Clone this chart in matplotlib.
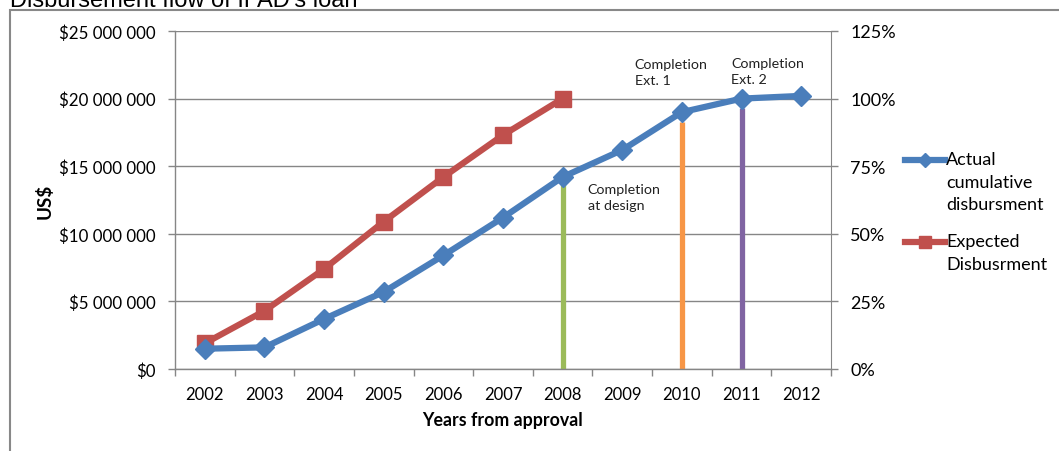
import matplotlib
matplotlib.use("Agg")
import matplotlib.pyplot as plt
from matplotlib.lines import Line2D
from matplotlib.patches import Rectangle
from matplotlib.ticker import FuncFormatter, FixedLocator

years = ["2002", "2003", "2004", "2005", "2006", "2007", "2008", "2009", "2010", "2011", "2012"]
actual = [1.5e6, 1.6e6, 3.7e6, 5.7e6, 8.4e6, 11.2e6, 14.2e6, 16.2e6, 19.0e6, 20.0e6, 20.2e6]
expected = [1.9e6, 4.3e6, 7.4e6, 10.9e6, 14.2e6, 17.3e6, 20.0e6]
milestone_years = ["2008", "2010", "2011"]
milestone_tops = [13.7e6, 18.3e6, 19.3e6]
milestone_labels = ["Completion\nat design", "Completion\nExt. 1", "Completion\nExt. 2"]
milestone_colors = ["#9BBB59", "#F79646", "#8064A2"]

BLUE = "#4A7EBB"
RED = "#C0504D"
GRID = "#868686"
FONT = "Lato"

W, H = 1059, 452
fig = plt.figure(figsize=(W / 100, H / 100), dpi=100)
ax = fig.add_axes([175 / W, 1 - 370 / H, (831 - 175) / W, (370 - 32) / H])

x_act = list(range(len(actual)))
x_exp = list(range(len(expected)))

# milestone vertical lines
for yr, top, col in zip(milestone_years, milestone_tops, milestone_colors):
    xi = years.index(yr)
    ax.plot([xi, xi], [0, top], color=col, lw=3.8, solid_capstyle="butt", zorder=2)

ax.plot(x_act, actual, color=BLUE, lw=4.5, marker="D", markersize=10.5,
        markerfacecolor=BLUE, markeredgecolor=BLUE, zorder=4)
ax.plot(x_exp, expected, color=RED, lw=4.5, marker="s", markersize=12,
        markerfacecolor=RED, markeredgecolor=RED, zorder=3)

# annotations
ann_kw = dict(fontsize=10.3, family=FONT, va="top", ha="left", color="#222222", linespacing=1.4)
ax.text(6.42, 13.75e6, milestone_labels[0], **ann_kw)
ax.text(7.21, 23.0e6, milestone_labels[1], **ann_kw)
ax.text(8.83, 23.05e6, milestone_labels[2], **ann_kw)

ax.set_xlim(-0.5, len(years) - 0.5)
ax.set_ylim(0, 25e6)
ax.set_xticks(range(len(years)))
ax.set_xticklabels(years, family=FONT, fontsize=12)
ax.xaxis.set_minor_locator(FixedLocator([i - 0.5 for i in range(len(years) + 1)]))
ax.tick_params(axis="x", which="major", length=0, pad=12)
ax.tick_params(axis="x", which="minor", length=5, color=GRID, width=1)
ax.set_yticks([0, 5e6, 10e6, 15e6, 20e6, 25e6])
ax.yaxis.set_major_formatter(FuncFormatter(
    lambda v, p: "$0" if v == 0 else "$" + f"{int(v):,}".replace(",", " ")))
ax.tick_params(axis="y", length=5, color=GRID, width=1, pad=9, labelsize=12.2)
for lab in ax.get_yticklabels():
    lab.set_family(FONT)
ax.grid(axis="y", color=GRID, lw=1)
ax.set_axisbelow(True)
for s in ["top", "right"]:
    ax.spines[s].set_visible(False)
for s in ["left", "bottom"]:
    ax.spines[s].set_color(GRID)
    ax.spines[s].set_linewidth(1)

ax.set_xlabel("Years from approval", family=FONT, fontsize=12.8, fontweight="bold", labelpad=7)
ax.set_ylabel("US$", family=FONT, fontsize=13.5, fontweight="bold", labelpad=4)

ax2 = ax.twinx()
ax2.set_ylim(0, 1.25)
ax2.set_yticks([0, 0.25, 0.5, 0.75, 1.0, 1.25])
ax2.yaxis.set_major_formatter(FuncFormatter(lambda v, p: f"{v * 100:.0f}%"))
ax2.tick_params(axis="y", length=5, color=GRID, width=1, pad=9, labelsize=13)
for lab in ax2.get_yticklabels():
    lab.set_family(FONT)
for s in ["top", "left", "bottom"]:
    ax2.spines[s].set_visible(False)
ax2.spines["right"].set_color(GRID)

# legend (manual)
def fx(px):
    return px / W

def fy(py):
    return 1 - py / H

fig.add_artist(Line2D([fx(905), fx(945)], [fy(161), fy(161)], color=BLUE, lw=4.5))
fig.add_artist(Line2D([fx(925)], [fy(161)], color=BLUE, marker="D", markersize=7, lw=0))
fig.add_artist(Line2D([fx(905), fx(945)], [fy(243), fy(243)], color=RED, lw=4.5))
fig.add_artist(Line2D([fx(925)], [fy(243)], color=RED, marker="s", markersize=9, lw=0))
fig.text(fx(946), fy(152), "Actual\ncumulative\ndisbursment", family=FONT, fontsize=13,
         va="top", ha="left", linespacing=1.5)
fig.text(fx(946), fy(234), "Expected\nDisbusrment", family=FONT, fontsize=13,
         va="top", ha="left", linespacing=1.5)

# outer border and title
fig.add_artist(Rectangle((fx(10), fy(500)), 2, fy(11) - fy(500), transform=fig.transFigure,
                         fill=False, edgecolor="#888888", lw=1.5, clip_on=False))
fig.text(fx(10), fy(7), "Disbursement flow of IFAD's loan", family="Liberation Sans",
         fontsize=17, va="baseline", ha="left")

fig.savefig("out.png", dpi=100)
